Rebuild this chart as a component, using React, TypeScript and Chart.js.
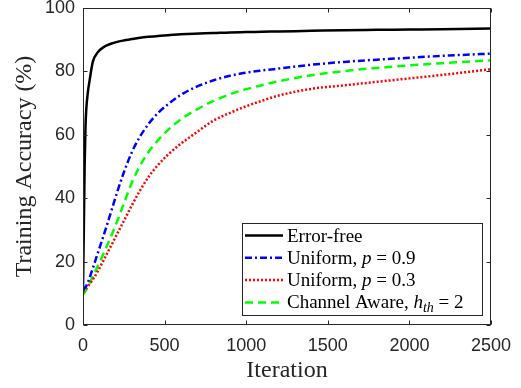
import React, { useEffect, useRef } from "react";
import { Chart, registerables } from "chart.js";

Chart.register(...registerables);

// ---------------- data ----------------
const iterations = [0, 5, 10, 15, 20, 30, 40, 60, 90, 130, 175, 215, 255, 300, 350, 400, 460, 520, 600, 680, 800, 900, 1000, 1100, 1200, 1400, 1600, 1800, 2000, 2200, 2500];

const errorFree = [11, 30, 50, 62, 68, 73.5, 77, 83, 86, 87.8, 88.8, 89.4, 89.8, 90.2, 90.6, 90.9, 91.2, 91.4, 91.7, 91.9, 92.1, 92.3, 92.4, 92.5, 92.6, 92.8, 93.0, 93.1, 93.2, 93.3, 93.5];

const uniformP09 = [11, 11.3, 11.7, 12.0, 12.3, 13.5, 14.8, 17.9, 22.6, 28.8, 36.2, 42.8, 48.8, 54.6, 59.5, 63.3, 66.9, 69.6, 72.6, 74.8, 77.2, 78.6, 79.6, 80.3, 80.9, 82.1, 83.0, 83.7, 84.3, 84.9, 85.6];

const uniformP03 = [10.5, 10.7, 11.0, 11.3, 11.6, 12.2, 12.9, 14.3, 16.9, 20.8, 25.3, 29.3, 33.3, 37.8, 42.5, 46.6, 50.5, 53.7, 57.2, 60.2, 64.5, 66.9, 69.0, 70.8, 72.4, 74.5, 75.6, 76.7, 77.8, 78.9, 80.7];

const channelAware = [9.5, 9.9, 10.3, 10.7, 11.1, 12.1, 13.1, 15.3, 18.5, 23, 28.3, 33.5, 39, 45, 50.3, 54.5, 58.3, 61.5, 64.9, 67.5, 70.7, 72.8, 74.4, 75.7, 76.9, 78.8, 80.1, 81.1, 81.9, 82.6, 83.5];

const xTickValues = [0, 500, 1000, 1500, 2000, 2500];
const yTickValues = [0, 20, 40, 60, 80, 100];

const xTitle = "Iteration";
const yTitle = "Training Accuracy (%)";

// legend labels as text segments: [text, style] where style: n = normal, i = italic, s = italic subscript
const legendLabels: [string, string][][] = [
  [["Error-free", "n"]],
  [["Uniform, ", "n"], ["p", "i"], [" = 0.9", "n"]],
  [["Uniform, ", "n"], ["p", "i"], [" = 0.3", "n"]],
  [["Channel Aware, ", "n"], ["h", "i"], ["th", "s"], [" = 2", "n"]],
];

// ---------------- styling ----------------
const AXIS_COLOR = "#262626";
const SERIF = "'Liberation Serif', 'Times New Roman', serif";
const SANS = "'Liberation Sans', Arial, Helvetica, sans-serif";

const toXY = (ys: number[]) => ys.map((y, i) => ({ x: iterations[i], y }));

const boxPlugin = {
  id: "matlabBox",
  afterDatasetsDraw(chart: any) {
    const { ctx, chartArea: a, scales } = chart;
    ctx.save();
    ctx.strokeStyle = AXIS_COLOR;
    ctx.lineWidth = 1;
    const L = Math.round(a.left) + 0.5;
    const R = Math.round(a.right) - 0.5;
    const T = Math.round(a.top) + 0.5;
    const B = Math.round(a.bottom) - 0.5;
    ctx.strokeRect(L, T, R - L, B - T);
    const tl = 4;
    ctx.beginPath();
    scales.x.ticks.forEach((t: any) => {
      const px = Math.round(scales.x.getPixelForValue(t.value)) + 0.5;
      ctx.moveTo(px, B);
      ctx.lineTo(px, B - tl);
      ctx.moveTo(px, T);
      ctx.lineTo(px, T + tl);
    });
    scales.y.ticks.forEach((t: any) => {
      const py = Math.round(scales.y.getPixelForValue(t.value)) + 0.5;
      ctx.moveTo(L, py);
      ctx.lineTo(L + tl, py);
      ctx.moveTo(R, py);
      ctx.lineTo(R - tl, py);
    });
    ctx.stroke();
    ctx.restore();
  },
};

const legendPlugin = {
  id: "matlabLegend",
  afterDraw(chart: any) {
    const { ctx, chartArea: a } = chart;
    const w = 240;
    const h = 92;
    const right = Math.round(a.right) - 9;
    const bottom = Math.round(a.bottom) - 10;
    const left = right - w;
    const top = bottom - h;
    ctx.save();
    ctx.fillStyle = "#ffffff";
    ctx.fillRect(left, top, w, h);
    ctx.strokeStyle = AXIS_COLOR;
    ctx.lineWidth = 1;
    ctx.strokeRect(left + 0.5, top + 0.5, w, h);
    const fs = 19;
    chart.data.datasets.forEach((ds: any, i: number) => {
      const rowY = top + 12.5 + i * 22.3;
      ctx.save();
      ctx.strokeStyle = ds.borderColor;
      ctx.lineWidth = ds.borderWidth;
      ctx.setLineDash(ds.borderDash || []);
      ctx.beginPath();
      ctx.moveTo(left + 3, rowY);
      ctx.lineTo(left + 41, rowY);
      ctx.stroke();
      ctx.restore();
      let x = left + 45;
      const baseY = rowY + 6;
      ctx.fillStyle = "#000000";
      ctx.textBaseline = "alphabetic";
      ctx.textAlign = "left";
      (legendLabels[i] || []).forEach(([text, style]) => {
        let y = baseY;
        if (style === "n") ctx.font = `${fs}px ${SERIF}`;
        else if (style === "i") ctx.font = `italic ${fs}px ${SERIF}`;
        else {
          ctx.font = `italic ${Math.round(fs * 0.72)}px ${SERIF}`;
          y = baseY + 4;
        }
        ctx.fillText(text, x, y);
        x += ctx.measureText(text).width;
      });
    });
    ctx.restore();
  },
};

export default function App() {
  const canvasRef = useRef<HTMLCanvasElement | null>(null);

  useEffect(() => {
    if (!canvasRef.current) return;
    const chart = new Chart(canvasRef.current, {
      type: "line",
      data: {
        datasets: [
          { label: "Error-free", data: toXY(errorFree), borderColor: "#000000", borderWidth: 2.5, borderDash: [], pointRadius: 0, fill: false, cubicInterpolationMode: "monotone" },
          { label: "Uniform, p = 0.9", data: toXY(uniformP09), borderColor: "#0000ff", borderWidth: 2.5, borderDash: [7, 3, 2, 3], pointRadius: 0, fill: false, cubicInterpolationMode: "monotone" },
          { label: "Uniform, p = 0.3", data: toXY(uniformP03), borderColor: "#ff0000", borderWidth: 2.5, borderDash: [2, 2], pointRadius: 0, fill: false, cubicInterpolationMode: "monotone" },
          { label: "Channel Aware, h_th = 2", data: toXY(channelAware), borderColor: "#00ff00", borderWidth: 2.5, borderDash: [8, 5], pointRadius: 0, fill: false, cubicInterpolationMode: "monotone" },
        ] as any,
      },
      options: {
        animation: false,
        responsive: false,
        devicePixelRatio: 1,
        layout: { padding: { top: 8, right: 30, left: 0, bottom: 0 } },
        plugins: { legend: { display: false }, tooltip: { enabled: false } },
        scales: {
          x: {
            type: "linear",
            min: 0,
            max: 2500,
            afterBuildTicks: (s: any) => { s.ticks = xTickValues.map((v) => ({ value: v })); },
            ticks: { color: AXIS_COLOR, font: { family: SANS, size: 18 }, padding: 10, maxRotation: 0, autoSkip: false, callback: (v: any) => String(v) },
            grid: { display: false, drawTicks: false },
            border: { display: false },
            title: { display: true, text: xTitle, color: AXIS_COLOR, font: { family: SERIF, size: 24 }, padding: { top: 0, bottom: 3 } },
            afterFit: (s: any) => { s.height = 63; s.paddingLeft = 0; s.paddingRight = 0; },
          },
          y: {
            type: "linear",
            min: 0,
            max: 100,
            afterBuildTicks: (s: any) => { s.ticks = yTickValues.map((v) => ({ value: v })); },
            ticks: { color: AXIS_COLOR, font: { family: SANS, size: 18 }, padding: 8, callback: (v: any) => String(v) },
            grid: { display: false, drawTicks: false },
            border: { display: false },
            title: { display: true, text: yTitle, color: AXIS_COLOR, font: { family: SERIF, size: 24 }, padding: { top: 10, bottom: 0 } },
            afterFit: (s: any) => { s.width = 83; s.paddingTop = 0; s.paddingBottom = 0; },
          },
        },
      } as any,
      plugins: [boxPlugin, legendPlugin],
    });
    return () => chart.destroy();
  }, []);

  return (
    <div style={{ position: "absolute", left: 0, top: 0, width: 521, height: 388, background: "#ffffff" }}>
      <canvas ref={canvasRef} width={521} height={388} style={{ display: "block" }} />
    </div>
  );
}
